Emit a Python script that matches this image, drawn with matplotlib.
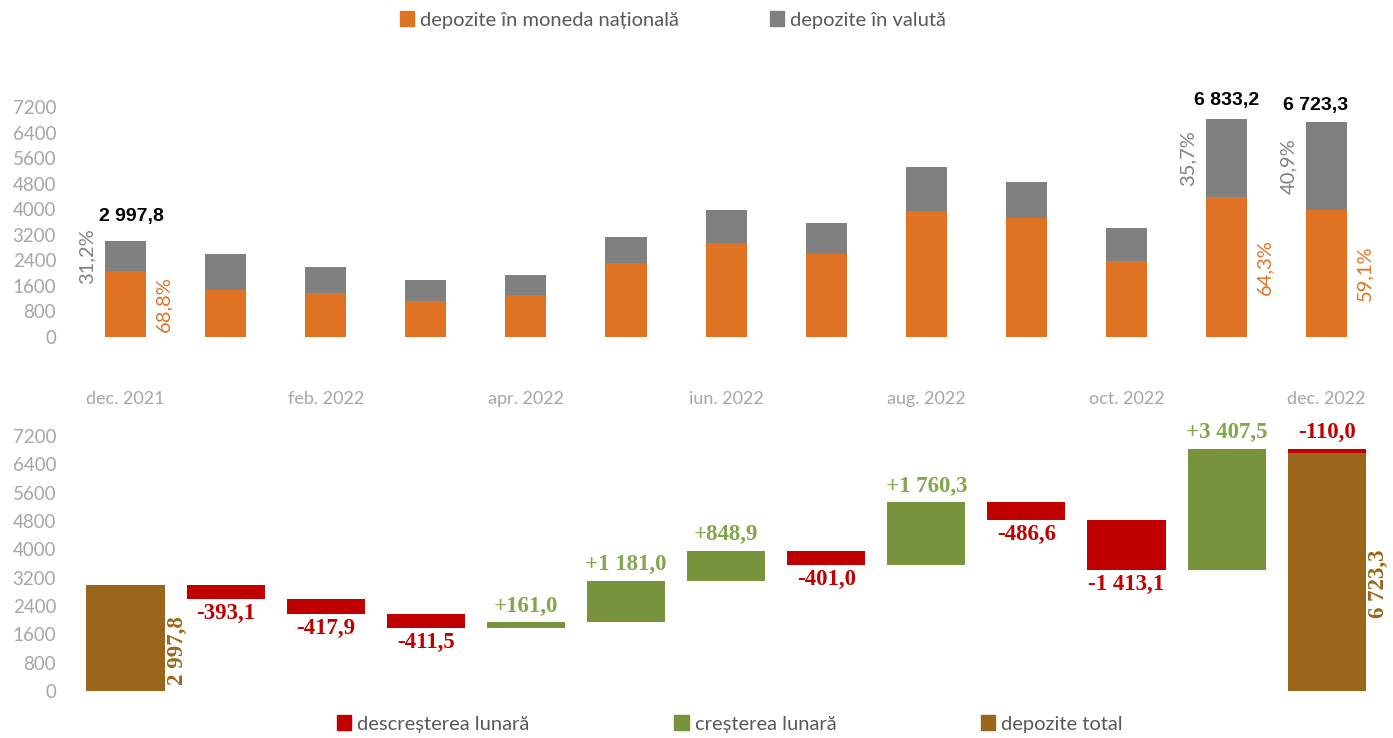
import numpy as np
import matplotlib
matplotlib.use('Agg')
import matplotlib.pyplot as plt
from matplotlib.patches import Patch

# data (mil. lei)
months = ['dec. 2021', 'ian. 2022', 'feb. 2022', 'mar. 2022', 'apr. 2022', 'mai. 2022', 'iun. 2022',
          'iul. 2022', 'aug. 2022', 'sep. 2022', 'oct. 2022', 'nov. 2022', 'dec. 2022']
total_dep = [2997.8, 2604.7, 2186.8, 1775.3, 1936.3, 3117.3, 3966.2, 3565.2, 5325.5, 4838.9, 3425.8, 6833.2, 6723.3]
dom_dep = [2062.5, 1480.0, 1375.0, 1135.0, 1330.0, 2330.0, 2955.0, 2590.0, 3960.0, 3710.0, 2385.0, 4393.7, 3973.5]
start_total = 2997.8
changes = [-393.1, -417.9, -411.5, 161.0, 1181.0, 848.9, -401.0, 1760.3, -486.6, -1413.1, 3407.5, -110.0]
end_total = 6723.3
pct_bars = [0, 11, 12]          # bars with share labels
total_lbl = {0: (4, 12), 11: (0, 7), 12: (-8, 6)}   # offsets of total labels (pt)

ORANGE = '#E07323'; GREY = '#808080'
RED = '#C00000'; GREEN = '#77933C'; BROWN = '#9A661C'
GLBL = '#82A64A'; TICK = '#A6A6A6'; LEG = '#595959'
SANS = 'Lato'; SERIF = 'Liberation Serif'

def fmt(v, sign=False):
    s = f"{abs(v):,.1f}".replace(',', ' ').replace('.', ',')
    if sign:
        return ('+' if v > 0 else '-') + s
    return s

W, H = 1393, 738
fig = plt.figure(figsize=(W / 100, H / 100), dpi=100)
L, R = 70, 1385
x0, step = 125.5, 100.1
xlim = ((L - x0) / step, (R - x0) / step)

# ---- top: structure of deposits
ax = fig.add_axes([L / W, 1 - 337 / H, (R - L) / W, 230 / H])
x = np.arange(len(months))
dom = np.array(dom_dep); tot = np.array(total_dep); fx = tot - dom
ax.bar(x, dom, 0.41, color=ORANGE)
ax.bar(x, fx, 0.41, bottom=dom, color=GREY)
for i in pct_bars:
    ax.text(i - 0.3, dom[i] + fx[i] / 2, f"{fx[i] / tot[i] * 100:.1f}%".replace('.', ','), rotation=90,
            ha='right', va='center', color=GREY, fontsize=14.5, family=SANS)
    ax.text(i + 0.3, dom[i] / 2, f"{dom[i] / tot[i] * 100:.1f}%".replace('.', ','), rotation=90,
            ha='left', va='center', color=ORANGE, fontsize=14.5, family=SANS)
for i, off in total_lbl.items():
    ax.annotate(fmt(tot[i]), (i, tot[i]), xytext=off, textcoords='offset points', ha='center', va='bottom',
                fontsize=14, fontweight='bold', family='Liberation Sans', color='black')
ax.set_xlim(*xlim); ax.set_ylim(0, 7200)
ax.set_yticks(np.arange(0, 7201, 800))
ax.set_xticks(x[::2], months[::2])
ax.tick_params(axis='x', length=0, pad=39, labelsize=13, labelcolor=TICK)
ax.tick_params(axis='y', length=0, pad=10, labelsize=13.5, labelcolor=TICK)
for s in ax.spines.values(): s.set_visible(False)
for t in ax.get_xticklabels() + ax.get_yticklabels(): t.set_family(SANS)

# ---- bottom: waterfall
bx = fig.add_axes([L / W, 1 - 691 / H, (R - L) / W, 255 / H])
levels = start_total + np.cumsum(changes)
prev = np.concatenate([[start_total], levels[:-1]])
n = len(changes)
bx.bar(0, start_total, 0.78, color=BROWN)
bx.bar(n, end_total, 0.78, color=BROWN)
for k, (ch, b) in enumerate(zip(changes, prev)):
    pos = k + 1 if k < n - 1 else n
    c = GREEN if ch > 0 else RED
    bx.bar(pos, ch, 0.78, bottom=b, color=c)
    top = max(b, b + ch); bot = min(b, b + ch)
    if ch > 0 or k == n - 1:
        bx.annotate(fmt(ch, True), (pos, top), xytext=(0, 4), textcoords='offset points', ha='center',
                    va='bottom', color=GLBL if ch > 0 else RED, fontsize=16.5, fontweight='bold', family=SERIF)
    else:
        bx.annotate(fmt(ch, True), (pos, bot), xytext=(0, -3), textcoords='offset points', ha='center',
                    va='top', color=RED, fontsize=16.5, fontweight='bold', family=SERIF)
for pos, v, yl in [(0, start_total, start_total * 0.38), (n, end_total, end_total * 0.45)]:
    bx.text(pos + 0.41, yl, fmt(v), rotation=90, ha='left', va='center', color=BROWN,
            fontsize=16.5, fontweight='bold', family=SERIF)
bx.set_xlim(*xlim); bx.set_ylim(0, 7200)
bx.set_yticks(np.arange(0, 7201, 800))
bx.set_xticks([])
bx.tick_params(axis='y', length=0, pad=10, labelsize=13.5, labelcolor=TICK)
for s in bx.spines.values(): s.set_visible(False)
for t in bx.get_yticklabels(): t.set_family(SANS)

# ---- legends
h1 = [Patch(color=ORANGE, label='depozite în moneda națională'), Patch(color=GREY, label='depozite în valută')]
lg1 = fig.legend(handles=h1, loc='center', bbox_to_anchor=(673 / W, 1 - 20 / H), ncol=2, frameon=False,
                 handlelength=0.7, handleheight=0.7, handletextpad=0.3, columnspacing=4.5,
                 prop={'family': SANS, 'size': 14.5})
h2 = [Patch(color=RED, label='descreșterea lunară'), Patch(color=GREEN, label='creșterea lunară'),
      Patch(color=BROWN, label='depozite total')]
lg2 = fig.legend(handles=h2, loc='center', bbox_to_anchor=(730 / W, 1 - 724 / H), ncol=3, frameon=False,
                 handlelength=0.7, handleheight=0.7, handletextpad=0.3, columnspacing=7.2,
                 prop={'family': SANS, 'size': 14.5})
for lg in (lg1, lg2):
    for t in lg.get_texts(): t.set_color(LEG)

fig.savefig('out.png', dpi=100)
